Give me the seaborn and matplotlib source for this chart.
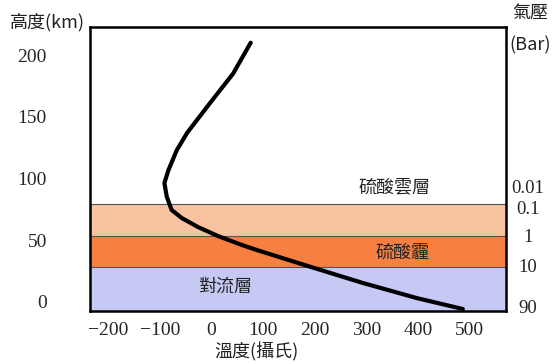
import numpy as np
import pandas as pd
import matplotlib
matplotlib.use("Agg")
import matplotlib.pyplot as plt
import seaborn as sns
from matplotlib.transforms import blended_transform_factory

# temperature profile
temp = [76, 42, -3, -47, -67, -83, -91, -86.5, -77, -57.5, -26, 12.7, 58.6, 87.6,
        190.6, 293, 397, 486.5]
height = [210, 185, 161, 137, 123, 107, 96.4, 85.3, 74.5, 68, 60.7, 53.4, 46.2, 42.1,
          28.6, 15.4, 3.2, -5.7]

# layers
band_edges = [-7.3, 28.6, 53.4, 79.1]
band_colors = ['#c6c9f3', '#f77f42', '#f9c3a1']

# pressure labels
pressure_h = [92, 75, 52, 28, -5]
pressure_lbl = ['0.01', '0.1', '1', '10', '90']

xticks = [-200, -100, 0, 100, 200, 300, 400, 500]
yticks = [0, 50, 100, 150, 200]

sns.set_style("white")
plt.rcParams['font.family'] = ['Noto Sans CJK TC', 'DejaVu Sans']

fig = plt.figure(figsize=(5.54, 3.64), dpi=100)
ax = fig.add_axes([90/554, 1-311/364, 416/554, 284/364])

for i in range(3):
    ax.axhspan(band_edges[i], band_edges[i+1], color=band_colors[i], lw=0, zorder=0)
for h in band_edges[1:]:
    ax.axhline(h, color='#555555', lw=0.8, zorder=1)

df = pd.DataFrame({'temp': temp, 'height': height})
sns.lineplot(data=df, x='temp', y='height', sort=False, color='black', lw=3.0, ax=ax,
             zorder=3, solid_capstyle='round', solid_joinstyle='round')

ax.set_xlim(-235, 570)
ax.set_ylim(-7.3, 222.7)
ax.set_xticks(xticks)
ax.set_yticks(yticks)
ax.set_xlabel('')
ax.set_ylabel('')
serif = ['Liberation Serif', 'DejaVu Serif']
ax.tick_params(axis='y', length=0, pad=31)
ax.tick_params(axis='x', length=0, pad=8)
for lbl in ax.get_xticklabels() + ax.get_yticklabels():
    lbl.set_family(serif)
    lbl.set_fontsize(14)
for s in ax.spines.values():
    s.set_color('black')
    s.set_linewidth(1.8)

tr = blended_transform_factory(ax.transAxes, ax.transData)
for h, t in zip(pressure_h, pressure_lbl):
    ax.text(1.053, h, t, transform=tr, ha='center', va='center', fontsize=13.5, family=serif)

ax.text(355, 93, '硫酸雲層', ha='center', va='center', fontsize=13, color='#222222')
ax.text(370, 40, '硫酸霾', ha='center', va='center', fontsize=13, color='#222222')
ax.text(26, 12, '對流層', ha='center', va='center', fontsize=13, color='#222222')

fig.text(47/554, 1-22/364, '高度(km)', ha='center', va='center', fontsize=13, color='#222222')
fig.text(530/554, 1-13/364, '氣壓', ha='center', va='center', fontsize=13, color='#222222')
fig.text(530/554, 1-45/364, '(Bar)', ha='center', va='center', fontsize=13, color='#222222')
fig.text(256/554, 1-352/364, '溫度(攝氏)', ha='center', va='center', fontsize=13, color='#222222')

fig.savefig('out.png', dpi=100)
